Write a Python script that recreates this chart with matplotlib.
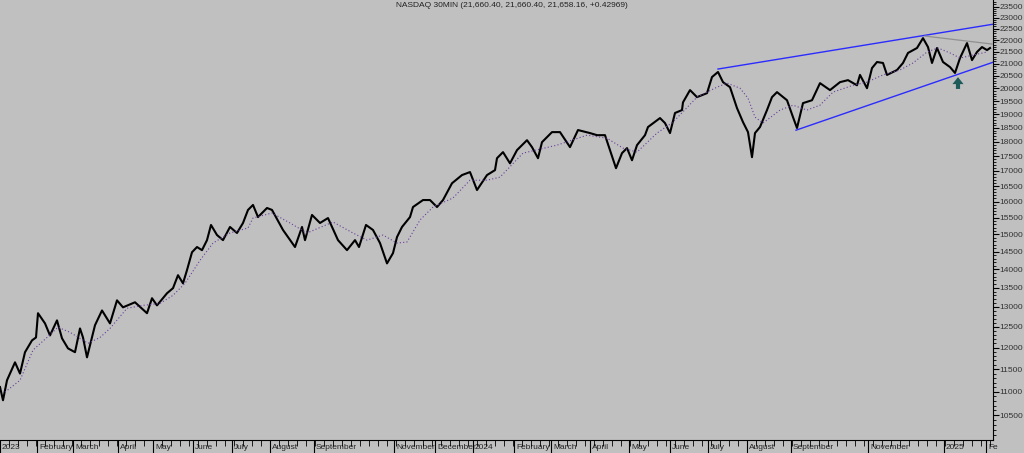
import matplotlib
matplotlib.use("Agg")
import matplotlib.pyplot as plt
from matplotlib.ticker import FixedLocator, NullFormatter, FixedFormatter
from matplotlib.transforms import ScaledTranslation

plt.rcParams['font.family'] = ['Liberation Sans', 'DejaVu Sans']

title = "NASDAQ 30MIN (21,660.40, 21,660.40, 21,658.16, +0.42969)"

# time position (bar-axis units) and close price
px_t = [0,3,7,15,20,25,32,36,38,45,50,57,62,68,75,80,83,87,95,102,110,117,123,135,147,152,157,167,173,178,183,187,192,197,202,207,211,217,223,230,237,243,248,
        253,258,267,272,283,295,302,305,312,320,328,338,347,355,359,366,373,380,387,393,397,402,410,413,423,430,437,443,452,462,470,477,487,495,497,
        503,510,517,527,532,538,542,552,560,570,578,590,597,605,610,616,622,627,632,637,645,648,660,665,670,675,682,683,690,697,707,712,718,723,730,737,743,748,
        752,755,760,767,772,777,787,793,797,803,812,820,830,840,848,857,860,867,872,877,883,887,897,903,908,917,923,928,932,937,943,950,955,960,967,972,977,982,987,990]
px_v = [11100,10815,11250,11655,11400,11890,12170,12240,12840,12585,12290,12660,12220,11980,11890,12460,12240,11770,12540,12910,12585,13170,12990,13120,12840,13225,13040,13355,13490,13840,13620,13980,14480,14630,14540,14830,15280,14980,14830,15220,15040,15340,15740,
        15895,15520,15800,15740,15130,14630,15220,14830,15585,15340,15490,14830,14540,14830,14630,15280,15130,14745,14165,14455,14920,15220,15520,15830,16050,16050,15830,16050,16590,16860,16960,16370,16860,17025,17430,
        17640,17255,17710,18060,17815,17430,17990,18350,18350,17815,18425,18315,18240,18240,17710,17090,17605,17780,17360,17885,18240,18535,18865,18680,18315,19055,19165,19460,19935,19660,19815,20455,20660,20250,20050,19240,18715,18350,
        17465,18315,18535,19165,19660,19855,19540,18900,18500,19430,19540,20210,19935,20250,20330,20125,20540,20010,20820,21070,21030,20540,20740,21030,21450,21660,22085,21700,21030,21660,21070,20860,20620,21235,21870,21150,21490,21700,21570,21658]

ma_t = [5,20,33,47,58,70,88,100,110,127,143,160,173,185,200,213,230,248,253,272,290,307,333,353,367,383,397,407,420,433,453,470,487,500,
        523,557,587,607,623,637,657,673,697,717,727,740,748,755,763,780,793,807,820,833,853,867,883,900,913,927,938,950,960,973,987]
ma_v = [10990,11250,11940,12240,12490,12365,12100,12240,12460,12965,13040,13090,13300,13620,14250,14745,15040,15190,15490,15645,15340,15040,15370,15040,14830,14980,14745,14775,15430,15830,16115,16690,16690,16790,
        17605,17885,18240,18130,17780,17640,18315,18715,19660,20050,20210,20010,19620,18900,18680,19165,19350,19165,19350,19855,20125,20250,20540,20740,21030,21490,21660,21450,21235,21360,21490]

upper_t = [718, 993]; upper_v = [20780, 22700]
lower_t = [796, 993]; lower_v = [18420, 21060]
grey_t = [925, 992]; grey_v = [22175, 21830]
arrow_t = 958; arrow_from = 19980; arrow_to = 20450

month_pos = [0,37,73,118,153,193,232,270,314,394,435,473,514,551,590,629,670,708,747,791,868,944,986]
month_lab = ["2023","February","March","April","May","June","July","August","September","November","December","2024",
             "February","March","April","May","June","July","August","September","November","2025","Fe"]

ytick_vals = list(range(10500, 23501, 500))

fig = plt.figure(figsize=(10.24, 4.53), dpi=100, facecolor='#c0c0c0')
ax = fig.add_axes([0, 13/453, 993/1024, 440/453], facecolor='#c0c0c0')
ax.set_yscale('log')
ax.plot(px_t, px_v, color='black', lw=1.5)
ax.plot(ma_t, ma_v, color='#6a3d9a', lw=0.8, ls=(0, (1, 2)))
ax.plot(upper_t, upper_v, color='#2b2bff', lw=1.0)
ax.plot(lower_t, lower_v, color='#2b2bff', lw=1.0)
ax.plot(grey_t, grey_v, color='#909090', lw=0.9)
ax.annotate('', xy=(arrow_t, arrow_to), xytext=(arrow_t, arrow_from),
            arrowprops=dict(arrowstyle='simple,head_width=0.8,head_length=0.5,tail_width=0.3',
                            mutation_scale=10, color='#1d5a5a', lw=0, shrinkA=0, shrinkB=0))

ax.set_xlim(0, 993)
ax.set_ylim(10000, 23810)
ax.yaxis.tick_right()
ax.yaxis.set_major_locator(FixedLocator(ytick_vals))
ax.yaxis.set_major_formatter(FixedFormatter([str(v) for v in ytick_vals]))
ax.yaxis.set_minor_locator(FixedLocator(list(range(10100, 23800, 100))))
ax.yaxis.set_minor_formatter(NullFormatter())
ax.tick_params(axis='y', which='major', length=4, width=0.8, labelsize=6, labelcolor='#333333', pad=0.5)
ax.tick_params(axis='y', which='minor', length=2.5, width=0.6)

ax.xaxis.set_major_locator(FixedLocator(month_pos))
ax.xaxis.set_major_formatter(FixedFormatter(month_lab))
ax.xaxis.set_minor_locator(FixedLocator(list(range(9, 993, 9))))
ax.tick_params(axis='x', which='major', length=12, width=0.8, labelsize=6, pad=-9, labelcolor='#222222')
ax.tick_params(axis='x', which='minor', length=4, width=0.6)
off = ScaledTranslation(2/100, 0, fig.dpi_scale_trans)
for lab in ax.get_xticklabels():
    lab.set_horizontalalignment('left')
    lab.set_transform(lab.get_transform() + off)

ax.spines['top'].set_visible(False)
ax.spines['left'].set_visible(False)
ax.text(0.515, 0.995, title, transform=ax.transAxes, ha='center', va='top', fontsize=6, color='#222222')

fig.savefig('out.png', dpi=100, facecolor=fig.get_facecolor())
